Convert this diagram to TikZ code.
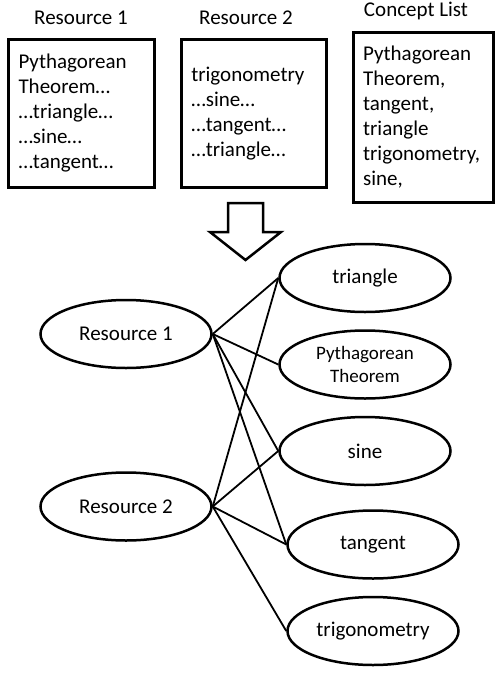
\documentclass[tikz,border=0pt]{standalone}
\usepackage{fontspec}
\setmainfont{Carlito}
\usetikzlibrary{positioning,shapes.geometric}

\begin{document}
\begin{tikzpicture}[
    x=1pt,y=-1pt,
    node distance=24pt,
    title/.style={anchor=base,font=\fontsize{21}{25}\selectfont},
    box/.style={draw=black,line width=2.8pt,inner xsep=10pt,inner ysep=0pt,align=left,font=\fontsize{21}{25}\selectfont},
    topic/.style={draw=black,ellipse,line width=2.5pt,minimum width=171pt,minimum height=68pt,inner sep=0pt,align=center,font=\fontsize{21}{25}\selectfont},
    link/.style={line width=1.8pt},
    bigarrow/.style={draw=black,line width=2.5pt,line join=miter}
  ]
    \useasboundingbox (0,0) rectangle (497,675);

    \node[title] (title1) at (81,24) {Resource 1};
    \node[title] (title2) at (246,24) {Resource 2};
    \node[title] (title3) at (416,16) {Concept List};

    \node[box,text width=126pt,minimum height=148pt] (doc1) at (81.5,113.5) {Pythagorean\\Theorem…\\…triangle…\\…sine…\\…tangent…};
    \node[box,text width=125pt,minimum height=148pt,right=of doc1] (doc2) {trigonometry\\…sine…\\…tangent…\\…triangle…};
    \node[box,text width=120pt,minimum height=170pt,right=of doc2,yshift=-4pt] (list) {Pythagorean\\Theorem,\\tangent,\\triangle\\trigonometry,\\sine,};

    \draw[bigarrow] (228,203) -- (263,203) -- (263,232) -- (281,232) -- (245.5,260) -- (210,232) -- (228,232) -- cycle;

    \node[topic] (res1) at (126,334) {Resource 1};
    \node[topic,below=102pt of res1] (res2) {Resource 2};
    \node[topic] (tri) at (365,278) {triangle};
    \node[topic,below=16pt of tri,font=\fontsize{19}{23}\selectfont] (pyth) {Pythagorean\\Theorem};
    \node[topic,below=16pt of pyth] (sine) {sine};
    \node[topic,below=23pt of sine,xshift=8pt] (tan) {tangent};
    \node[topic,below=16pt of tan] (trig) {trigonometry};

    \draw[link] (res1.east) -- (tri.west);
    \draw[link] (res1.east) -- (pyth.west);
    \draw[link] (res1.east) -- (sine.west);
    \draw[link] (res1.east) -- (tan.west);
    \draw[link] (res2.east) -- (tri.west);
    \draw[link] (res2.east) -- (sine.west);
    \draw[link] (res2.east) -- (tan.west);
    \draw[link] (res2.east) -- (trig.west);
\end{tikzpicture}
\end{document}
